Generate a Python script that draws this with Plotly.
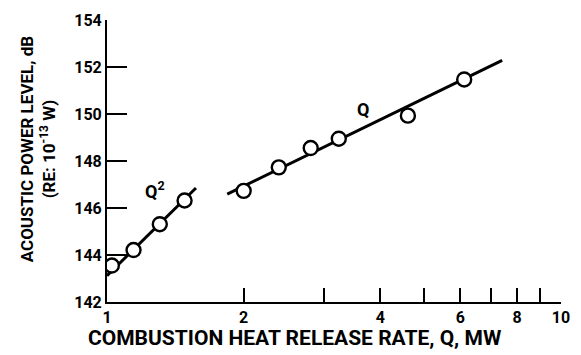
import plotly.graph_objects as go

# Measured acoustic power level vs. combustion heat release rate
q2_rate = [1.025, 1.144, 1.307, 1.482]          # MW
q2_level = [143.55, 144.21, 145.31, 146.32]     # dB
q_rate = [2.0, 2.39, 2.81, 3.24, 4.6, 6.12]     # MW
q_level = [146.73, 147.73, 148.55, 148.95, 149.93, 151.47]

# Fitted trend lines (Q^2 and Q scaling)
q2_fit_rate = [1.0, 1.57]
q2_fit_level = [143.12, 146.85]
q_fit_rate = [1.84, 7.42]
q_fit_level = [146.59, 152.28]

x_tickvals = [1, 2, 4, 6, 8, 10]
x_ticktext = ["1", "2", "4", "6", "8", "10"]
x_minorvals = [3, 5, 7, 9]
y_tickvals = [142, 144, 146, 148, 150, 152, 154]

FONT = "Roboto, sans-serif"

fig = go.Figure()

line_style = dict(color="black", width=3)
marker_style = dict(symbol="circle", size=14, color="white",
                    line=dict(color="black", width=2.4))

fig.add_trace(go.Scatter(x=q2_fit_rate, y=q2_fit_level, mode="lines",
                         line=line_style, hoverinfo="skip"))
fig.add_trace(go.Scatter(x=q_fit_rate, y=q_fit_level, mode="lines",
                         line=line_style, hoverinfo="skip"))
fig.add_trace(go.Scatter(x=q2_rate, y=q2_level, mode="markers",
                         marker=marker_style))
fig.add_trace(go.Scatter(x=q_rate, y=q_level, mode="markers",
                         marker=marker_style))

fig.add_annotation(x=0.106, y=146.75, xref="x", yref="y",
                   text="Q<sup>2</sup>", showarrow=False,
                   font=dict(size=18, color="black", family=FONT, weight="bold"))
fig.add_annotation(x=0.564, y=150.2, xref="x", yref="y",
                   text="Q", showarrow=False,
                   font=dict(size=18, color="black", family=FONT, weight="bold"))

# Two-line rotated y-axis title
fig.add_annotation(x=-0.153, y=0.54, xref="paper", yref="paper",
                   xanchor="center", yanchor="middle", textangle=-90,
                   text="ACOUSTIC POWER LEVEL, dB<br>(RE: 10<sup>-13</sup> W)",
                   showarrow=False,
                   font=dict(size=17, color="black", family=FONT, weight="bold"))

# x-axis title
fig.add_annotation(x=0.413, y=-0.128, xref="paper", yref="paper",
                   xanchor="center", yanchor="middle",
                   text="COMBUSTION HEAT RELEASE RATE, Q, MW",
                   showarrow=False,
                   font=dict(size=21, color="black", family=FONT, weight="bold"))

fig.update_layout(
    width=581, height=355,
    margin=dict(l=107, r=11, t=16, b=53),
    paper_bgcolor="white", plot_bgcolor="white",
    showlegend=False,
    font=dict(family=FONT, color="black", size=16, weight="bold"),
)

fig.update_xaxes(
    type="log", range=[0, 1],
    tickvals=x_tickvals, ticktext=x_ticktext,
    ticks="inside", ticklen=14, tickwidth=2, tickcolor="black",
    minor=dict(tickvals=x_minorvals, ticks="inside", ticklen=14,
               tickwidth=2, tickcolor="black", showgrid=False),
    showline=True, linecolor="black", linewidth=2,
    showgrid=False, zeroline=False,
    tickfont=dict(size=16, family=FONT, weight="bold"),
)
fig.update_yaxes(
    range=[142, 154], tickvals=y_tickvals,
    ticks="inside", ticklen=20, tickwidth=2, tickcolor="black",
    showline=True, linecolor="black", linewidth=2,
    showgrid=False, zeroline=False,
    tickfont=dict(size=16, family=FONT, weight="bold"),
)

fig.write_html("out.html")
